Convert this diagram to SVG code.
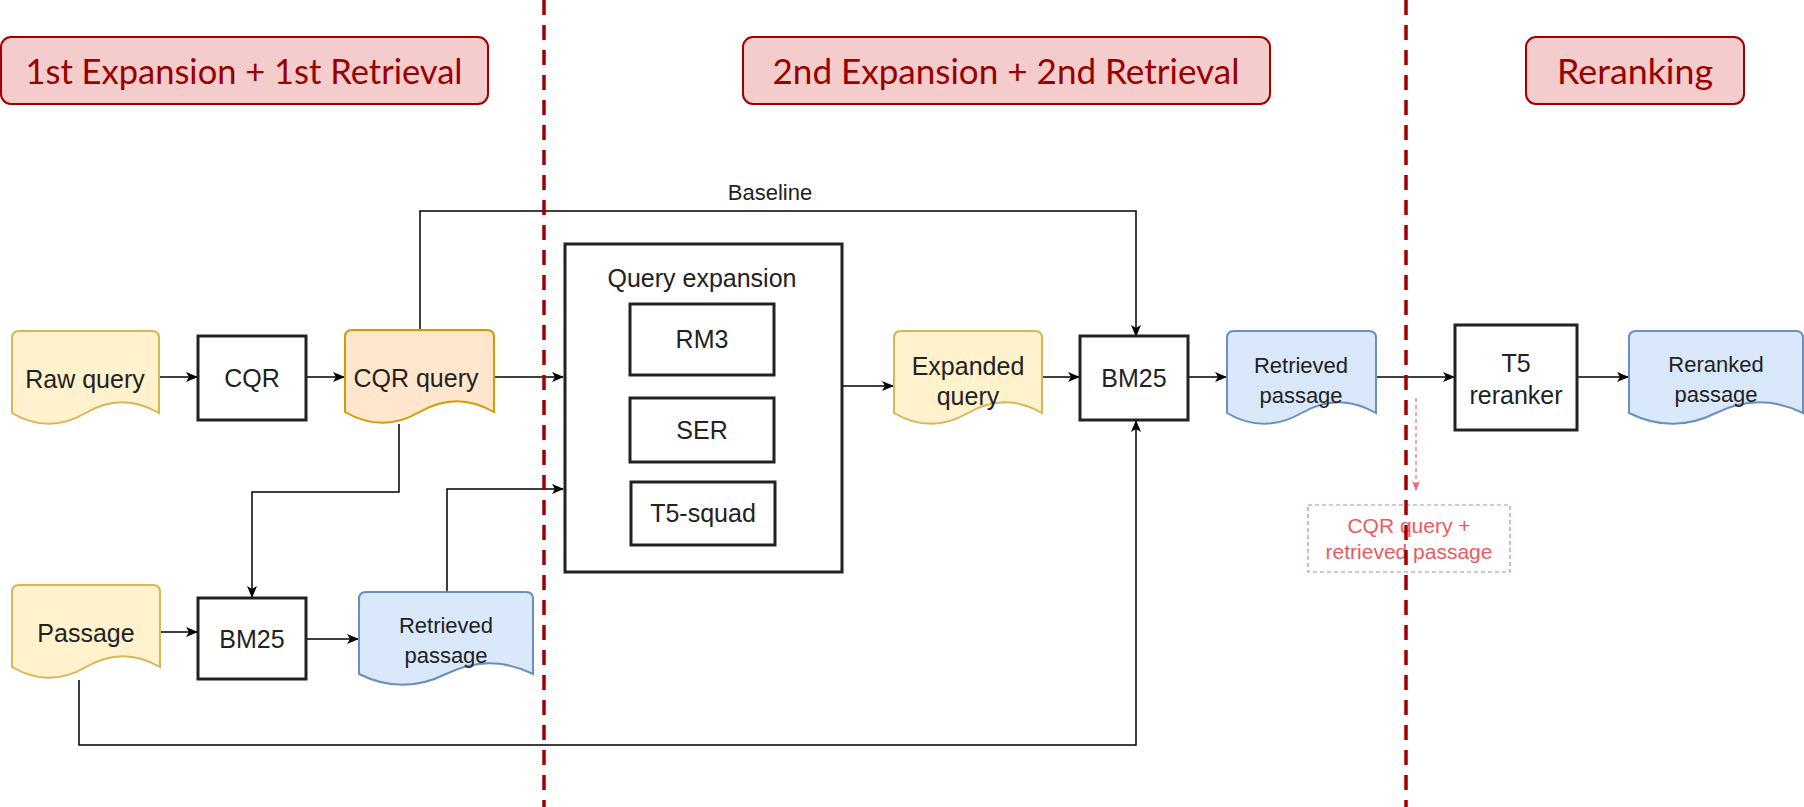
<svg xmlns="http://www.w3.org/2000/svg" width="1804" height="807" viewBox="0 0 1804 807">
<defs>
<marker id="arr" markerWidth="12" markerHeight="10" refX="11" refY="5" orient="auto" markerUnits="userSpaceOnUse">
<path d="M0,0 L12,5 L0,10 L3,5 Z" fill="#000"/>
</marker>
<marker id="arrRed" markerWidth="10" markerHeight="8" refX="9" refY="4" orient="auto" markerUnits="userSpaceOnUse">
<path d="M0,0 L10,4 L0,8 L2.5,4 Z" fill="#ea6b73"/>
</marker>
</defs>
<style>
.hdr{fill:#f4cccc;stroke:#a20000;stroke-width:2}
.htxt{font-family:Lato,"Noto Sans",sans-serif;font-size:34px;fill:#990000;text-anchor:middle}
.box{fill:#fff;stroke:#222;stroke-width:3}
.yel{fill:#fff2cc;stroke:#d6b656;stroke-width:2}
.org{fill:#ffe6cc;stroke:#d79b00;stroke-width:2}
.blu{fill:#dae8fc;stroke:#6c8ebf;stroke-width:2}
.t{font-family:"Liberation Sans",Arial,sans-serif;font-size:25px;fill:#222;text-anchor:middle}
.ts{font-family:"Liberation Sans",Arial,sans-serif;font-size:22px;fill:#222;text-anchor:middle}
.con{fill:none;stroke:#000;stroke-width:1.5}
.sep{stroke:#a20000;stroke-width:3.5;stroke-dasharray:15 10}
.note{font-family:"Liberation Sans",Arial,sans-serif;font-size:21px;fill:#ea5a63;text-anchor:middle}
</style>
<rect width="1804" height="807" fill="#fff"/>

<g id="header1"><rect class="hdr" x="1" y="37" width="487" height="67" rx="10"/><text class="htxt" x="244" y="84" textLength="437" lengthAdjust="spacingAndGlyphs">1st Expansion + 1st Retrieval</text></g>
<g id="header2"><rect class="hdr" x="743" y="37" width="527" height="67" rx="10"/><text class="htxt" x="1006" y="84" textLength="467" lengthAdjust="spacingAndGlyphs">2nd Expansion + 2nd Retrieval</text></g>
<g id="header3"><rect class="hdr" x="1526" y="37" width="218" height="67" rx="10"/><text class="htxt" x="1635" y="84" textLength="156" lengthAdjust="spacingAndGlyphs">Reranking</text></g>

<g id="connectors">
<path class="con" d="M159,377 H197" marker-end="url(#arr)"/>
<path class="con" d="M306,377 H344" marker-end="url(#arr)"/>
<path class="con" d="M494,377 H563" marker-end="url(#arr)"/>
<path class="con" d="M420,330 V211 H1136 V336" marker-end="url(#arr)"/>
<text class="ts" x="770" y="200" fill="#333">Baseline</text>
<path class="con" d="M399,424 V492 H252 V597" marker-end="url(#arr)"/>
<path class="con" d="M447,592 V489 H563" marker-end="url(#arr)"/>
<path class="con" d="M160,632 H197" marker-end="url(#arr)"/>
<path class="con" d="M306,639 H358" marker-end="url(#arr)"/>
<path class="con" d="M79,680 V745 H1136 V421" marker-end="url(#arr)"/>
<path class="con" d="M842,386 H893" marker-end="url(#arr)"/>
<path class="con" d="M1042,377 H1079" marker-end="url(#arr)"/>
<path class="con" d="M1188,377 H1226" marker-end="url(#arr)"/>
<path class="con" d="M1376,377 H1454" marker-end="url(#arr)"/>
<path class="con" d="M1577,377 H1628" marker-end="url(#arr)"/>
<path d="M1416,398 V490" fill="none" stroke="#e88a90" stroke-width="1.5" stroke-dasharray="4 3" marker-end="url(#arrRed)"/>
</g>

<g id="raw-query"><path class="yel" d="M12,338 Q12,331 19,331 H152 Q159,331 159,338 V413 Q122.25,391.4 85.5,413 Q48.75,434.6 12,413 Z"/><text class="t" x="85" y="388">Raw query</text></g>
<g id="cqr"><rect class="box" x="198" y="336" width="108" height="84"/><text class="t" x="252" y="387">CQR</text></g>
<g id="cqr-query"><path class="org" d="M345,337 Q345,330 352,330 H487 Q494,330 494,337 V412 Q456.75,390.4 419.5,412 Q382.25,433.6 345,412 Z"/><text class="t" x="416" y="387">CQR query</text></g>
<g id="passage"><path class="yel" d="M12,592 Q12,585 19,585 H153 Q160,585 160,592 V667 Q123,645.4 86,667 Q49,688.6 12,667 Z"/><text class="t" x="86" y="642">Passage</text></g>
<g id="bm25-1"><rect class="box" x="198" y="598" width="108" height="81"/><text class="t" x="252" y="648">BM25</text></g>
<g id="retrieved-1"><path class="blu" d="M359,599 Q359,592 366,592 H526 Q533,592 533,599 V674 Q489.5,652.4 446,674 Q402.5,695.6 359,674 Z"/><text class="ts" x="446" y="633">Retrieved</text><text class="ts" x="446" y="663">passage</text></g>

<g id="query-expansion"><rect class="box" x="565" y="244" width="277" height="328"/><text class="t" x="702" y="287" font-size="24">Query expansion</text>
<g id="rm3"><rect class="box" x="630" y="304" width="144" height="71"/><text class="t" x="702" y="348">RM3</text></g>
<g id="ser"><rect class="box" x="630" y="398" width="144" height="64"/><text class="t" x="702" y="439">SER</text></g>
<g id="t5-squad"><rect class="box" x="631" y="482" width="144" height="63"/><text class="t" x="703" y="522">T5-squad</text></g>
</g>

<g id="expanded-query"><path class="yel" d="M894,338 Q894,331 901,331 H1035 Q1042,331 1042,338 V413 Q1005,391.4 968,413 Q931,434.6 894,413 Z"/><text class="t" x="968" y="375">Expanded</text><text class="t" x="968" y="405">query</text></g>
<g id="bm25-2"><rect class="box" x="1080" y="336" width="108" height="84"/><text class="t" x="1134" y="387">BM25</text></g>
<g id="retrieved-2"><path class="blu" d="M1227,338 Q1227,331 1234,331 H1369 Q1376,331 1376,338 V413 Q1338.75,391.4 1301.5,413 Q1264.25,434.6 1227,413 Z"/><text class="ts" x="1301" y="373">Retrieved</text><text class="ts" x="1301" y="403">passage</text></g>
<g id="t5-reranker"><rect class="box" x="1455" y="325" width="122" height="105"/><text class="t" x="1516" y="372">T5</text><text class="t" x="1516" y="404">reranker</text></g>
<g id="reranked"><path class="blu" d="M1629,338 Q1629,331 1636,331 H1796 Q1803,331 1803,338 V413 Q1759.5,391.4 1716,413 Q1672.5,434.6 1629,413 Z"/><text class="ts" x="1716" y="372">Reranked</text><text class="ts" x="1716" y="402">passage</text></g>

<g id="note"><rect x="1308" y="505" width="202" height="67" fill="none" stroke="#b09090" stroke-width="1.2" stroke-dasharray="4 3"/><text class="note" x="1409" y="533">CQR query +</text><text class="note" x="1409" y="559">retrieved passage</text></g>

<g id="separators">
<line class="sep" x1="544" y1="0" x2="544" y2="807"/>
<line class="sep" x1="1406" y1="0" x2="1406" y2="807"/>
</g>
</svg>
